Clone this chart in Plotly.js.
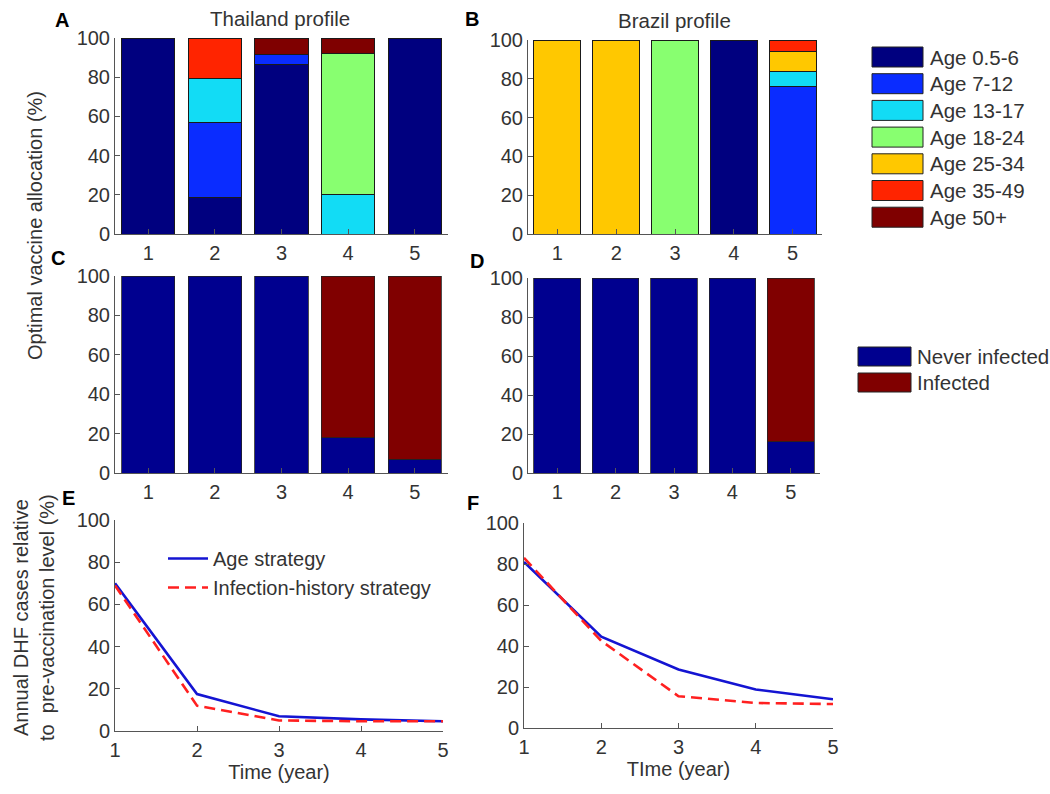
<!DOCTYPE html>
<html>
<head>
<meta charset="utf-8">
<script src="https://cdn.plot.ly/plotly-3.0.1.min.js"></script>
<style>html,body{margin:0;padding:0;background:#fff;}#chart{width:1050px;height:794px;}</style>
</head>
<body>
<div id="chart"></div>
<script>
// ---------- data ----------
const periods = [1, 2, 3, 4, 5];
const periodTicks = ['1', '2', '3', '4', '5'];
const years = [1, 2, 3, 4, 5];

const ageGroups = ['Age 0.5-6', 'Age 7-12', 'Age 13-17', 'Age 18-24', 'Age 25-34', 'Age 35-49', 'Age 50+'];
const ageColors = ['#00007f', '#0a2cff', '#12dcf5', '#88ff70', '#ffc800', '#ff2400', '#7f0000'];

// Thailand profile, optimal allocation by age group (%)
const thAge0_6   = [100, 18.5, 86.5, 0, 100];
const thAge7_12  = [0, 38.5, 5, 0, 0];
const thAge13_17 = [0, 22.5, 0, 20, 0];
const thAge18_24 = [0, 0, 0, 72, 0];
const thAge25_34 = [0, 0, 0, 0, 0];
const thAge35_49 = [0, 20.5, 0, 0, 0];
const thAge50    = [0, 0, 8.5, 8, 0];

// Brazil profile, optimal allocation by age group (%)
const brAge0_6   = [0, 0, 0, 100, 0];
const brAge7_12  = [0, 0, 0, 0, 76];
const brAge13_17 = [0, 0, 0, 0, 8];
const brAge18_24 = [0, 0, 100, 0, 0];
const brAge25_34 = [100, 100, 0, 0, 10];
const brAge35_49 = [0, 0, 0, 0, 6];
const brAge50    = [0, 0, 0, 0, 0];

const infGroups = ['Never infected', 'Infected'];
const infColors = ['#00008f', '#800000'];
// Infection-history allocation (%)
const thNever    = [100, 100, 100, 18, 7];
const thInfected = [0, 0, 0, 82, 93];
const brNever    = [100, 100, 100, 100, 16];
const brInfected = [0, 0, 0, 0, 84];

// Annual DHF cases relative to pre-vaccination level (%)
const strategyNames = ['Age strategy', 'Infection-history strategy'];
const thAgeStrategy = [70, 17.5, 7, 5.5, 4.6];
const thInfStrategy = [69, 12, 5, 4.6, 4.6];
const brAgeStrategy = [81, 44.5, 28.5, 18.8, 14];
const brInfStrategy = [83, 42.5, 15.5, 12.2, 11.7];

// ---------- build ----------
const W = 1050, H = 794;
const px = v => v / W;
const py = v => 1 - v / H;
const nz = a => a.map(v => (v === 0 ? null : v));

const thAges = [thAge0_6, thAge7_12, thAge13_17, thAge18_24, thAge25_34, thAge35_49, thAge50];
const brAges = [brAge0_6, brAge7_12, brAge13_17, brAge18_24, brAge25_34, brAge35_49, brAge50];

const traces = [];
const edge = {color: '#1a1a1a', width: 1};

ageGroups.forEach((g, i) => {
  traces.push({type: 'bar', name: g, x: periods, y: nz(thAges[i]), xaxis: 'x', yaxis: 'y',
    marker: {color: ageColors[i], line: edge}, showlegend: false, hoverinfo: 'name+y'});
});
ageGroups.forEach((g, i) => {
  traces.push({type: 'bar', name: g, x: periods, y: nz(brAges[i]), xaxis: 'x2', yaxis: 'y2',
    marker: {color: ageColors[i], line: edge}, showlegend: false, hoverinfo: 'name+y'});
});
[[thNever, thInfected, 'x3', 'y3'], [brNever, brInfected, 'x4', 'y4']].forEach(p => {
  [p[0], p[1]].forEach((vals, i) => {
    traces.push({type: 'bar', name: infGroups[i], x: periods, y: nz(vals), xaxis: p[2], yaxis: p[3],
      marker: {color: infColors[i], line: {color: '#222', width: 0.8}}, showlegend: false, hoverinfo: 'name+y'});
  });
});
const lineBlue = {color: '#1414d2', width: 2.6};
const lineRed = {color: '#ff2020', width: 2.6, dash: '11px,6px'};
traces.push({type: 'scatter', mode: 'lines', name: strategyNames[0], x: years, y: thAgeStrategy,
  xaxis: 'x5', yaxis: 'y5', line: lineBlue, legend: 'legend3', showlegend: true});
traces.push({type: 'scatter', mode: 'lines', name: strategyNames[1], x: years, y: thInfStrategy,
  xaxis: 'x5', yaxis: 'y5', line: lineRed, legend: 'legend3', showlegend: true});
traces.push({type: 'scatter', mode: 'lines', name: strategyNames[0], x: years, y: brAgeStrategy,
  xaxis: 'x6', yaxis: 'y6', line: lineBlue, showlegend: false});
traces.push({type: 'scatter', mode: 'lines', name: strategyNames[1], x: years, y: brInfStrategy,
  xaxis: 'x6', yaxis: 'y6', line: lineRed, showlegend: false});

const FONT = 'Liberation Sans, Arial, Helvetica, sans-serif';
const TXT = '#333333';
const axBase = {
  showline: true, linecolor: '#555', linewidth: 1, ticks: 'inside', ticklen: 5, tickcolor: '#555',
  showgrid: false, zeroline: false, mirror: false, fixedrange: true,
  tickfont: {family: FONT, size: 20, color: TXT}
};
const xBar = (dom, anchor) => Object.assign({}, axBase, {domain: dom, anchor: anchor, range: [0.5, 5.5],
  tickvals: periods, ticktext: periodTicks, ticklabelstandoff: 1});
const yPct = (dom, anchor) => Object.assign({}, axBase, {domain: dom, anchor: anchor, range: [0, 100],
  tickvals: [0, 20, 40, 60, 80, 100]});
const xYear = (dom, anchor, title) => Object.assign({}, axBase, {domain: dom, anchor: anchor, range: [1, 5],
  tickvals: years, ticklabelstandoff: 1,
  title: {text: title, font: {family: FONT, size: 20, color: TXT}, standoff: 4}});

const dA = {x: [px(115), px(448)], y: [py(234), py(38)]};
const dB = {x: [px(528), px(822)], y: [py(234), py(40)]};
const dC = {x: [px(115), px(448)], y: [py(473), py(276)]};
const dD = {x: [px(528), px(820)], y: [py(473), py(278)]};
const dE = {x: [px(115), px(443)], y: [py(731), py(520)]};
const dF = {x: [px(524), px(833)], y: [py(728), py(523)]};

const annotations = [];
const ann = (text, x, y, opts) => annotations.push(Object.assign({text: text, x: px(x), y: py(y),
  xref: 'paper', yref: 'paper', showarrow: false, xanchor: 'center', yanchor: 'middle',
  font: {family: FONT, size: 20, color: TXT}}, opts || {}));

// panel letters
[['A', 62, 20], ['B', 472, 19], ['C', 58, 258], ['D', 477, 261], ['E', 68, 498], ['F', 473, 503]].forEach(l =>
  ann('<b>' + l[0] + '</b>', l[1], l[2], {font: {family: FONT, size: 20, color: '#000'}}));
ann('Thailand profile', 280, 18, {font: {family: FONT, size: 20.5, color: TXT}});
ann('Brazil profile', 674, 20, {font: {family: FONT, size: 20.5, color: TXT}});
ann('Optimal vaccine allocation (%)', 35, 226, {textangle: -90});
ann('Annual DHF cases relative<br>to  pre-vaccination level (%)', 34, 618, {textangle: -90});

// legend boxes for bar charts
const shapes = [];
ageGroups.forEach((g, i) => {
  const top = 47 + i * 26.7;
  shapes.push({type: 'rect', xref: 'paper', yref: 'paper', x0: px(872), x1: px(923), y0: py(top + 20), y1: py(top),
    fillcolor: ageColors[i], line: {color: '#222', width: 1}});
  ann(g, 928, top + 10, {xanchor: 'left', font: {family: FONT, size: 20.5, color: TXT}});
});
infGroups.forEach((g, i) => {
  const top = 347 + i * 26;
  shapes.push({type: 'rect', xref: 'paper', yref: 'paper', x0: px(858), x1: px(911), y0: py(top + 19), y1: py(top),
    fillcolor: infColors[i], line: {color: '#222', width: 1}});
  ann(g, 915, top + 9.5, {xanchor: 'left', font: {family: FONT, size: 20.5, color: TXT}});
});

const layout = {
  width: W, height: H, margin: {l: 0, r: 0, t: 0, b: 0},
  paper_bgcolor: '#fff', plot_bgcolor: 'rgba(0,0,0,0)',
  font: {family: FONT, size: 20, color: TXT},
  barmode: 'stack', bargap: 0.2,
  xaxis: xBar(dA.x, 'y'), yaxis: yPct(dA.y, 'x'),
  xaxis2: xBar(dB.x, 'y2'), yaxis2: yPct(dB.y, 'x2'),
  xaxis3: xBar(dC.x, 'y3'), yaxis3: yPct(dC.y, 'x3'),
  xaxis4: xBar(dD.x, 'y4'), yaxis4: yPct(dD.y, 'x4'),
  xaxis5: xYear(dE.x, 'y5', 'Time (year)'), yaxis5: yPct(dE.y, 'x5'),
  xaxis6: xYear(dF.x, 'y6', 'TIme (year)'), yaxis6: yPct(dF.y, 'x6'),
  showlegend: true,
  legend3: {x: px(163), y: py(539), xanchor: 'left', yanchor: 'top', bgcolor: 'rgba(0,0,0,0)',
    borderwidth: 0, font: {family: FONT, size: 20, color: TXT}, itemwidth: 40, tracegroupgap: 0},
  annotations: annotations,
  shapes: shapes
};

Plotly.newPlot('chart', traces, layout, {displayModeBar: false, staticPlot: true});
</script>
</body>
</html>
